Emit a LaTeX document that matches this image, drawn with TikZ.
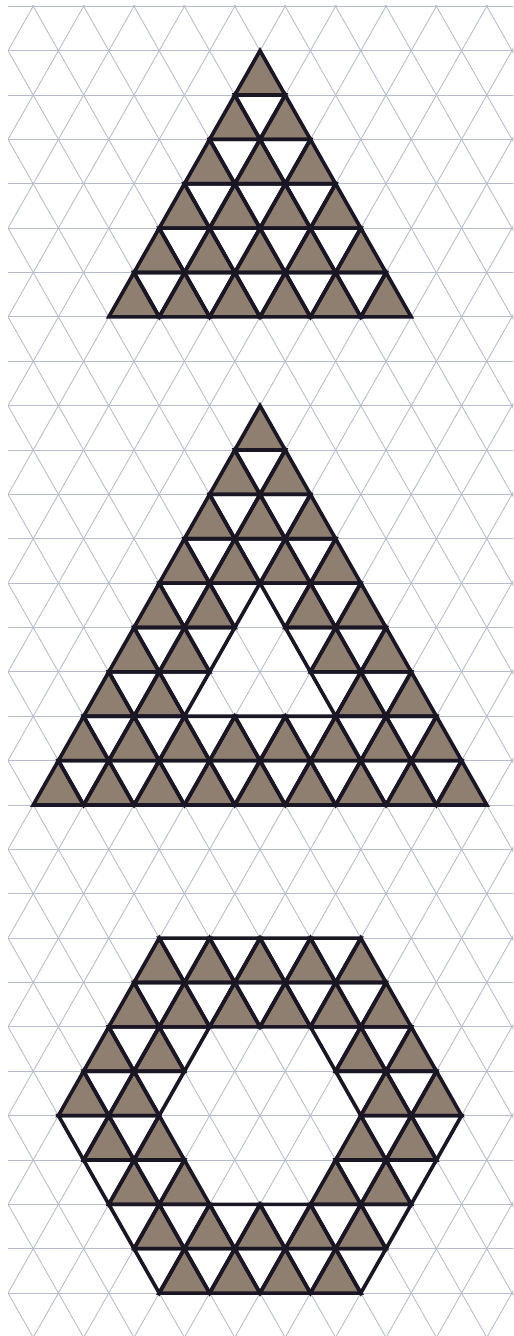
\documentclass[tikz,border=0pt]{standalone}
\definecolor{gridc}{RGB}{182,188,204}
\definecolor{shade}{RGB}{142,127,112}
\definecolor{ink}{RGB}{26,22,36}
\newcommand\inregion{%
 \pgfmathtruncatemacro\inside{((\cy>1)&&(\cy<7)&&(abs(\cx-10)<\cy-1)) || ((\cy>9)&&(\cy<18)&&(abs(\cx-10)<\cy-9)&&!((\cy>13)&&(\cy<16)&&(abs(\cx-10)<\cy-13))) || ((abs(\cy-25)<4)&&(abs(\cx-10)+abs(\cy-25)<8)&&!((abs(\cy-25)<2)&&(abs(\cx-10)+abs(\cy-25)<4)))}%
}
\newcommand\drawcells[2]{%
 \foreach \k in {0,...,29}{\foreach \a in {0,...,20}{%
   \pgfmathtruncatemacro\pty{mod(\a+\k,2)}%
   \ifnum\pty=1 \pgfmathsetmacro\cy{\k+2/3}\else\pgfmathsetmacro\cy{\k+1/3}\fi
   \def\cx{\a}%
   \inregion
   \ifnum\inside=1
     \ifnum\pty=1 \path[#1] (\a,\k) -- (\a-1,\k+1) -- (\a+1,\k+1) -- cycle;%
     \else \path[#2] (\a-1,\k) -- (\a+1,\k) -- (\a,\k+1) -- cycle;\fi
   \fi}}%
}
\begin{document}
\begin{tikzpicture}[x=25.2pt,y=-44.37pt,
  gridline/.style={draw=gridc,line width=0.85pt},
  cellup/.style={fill=shade},
  celldown/.style={fill=white},
  celledge/.style={draw=ink,line width=3.6pt,line join=miter}]
\useasboundingbox[fill=white] (-0.3175,-0.142) rectangle (20.04,29.968);
\begin{scope}
\clip (0,-0.02) rectangle (20.05,30.1);
\foreach \k in {0,...,30} \draw[gridline] (0,\k) -- (20.1,\k);
\foreach \c in {-31,-29,...,21} \draw[gridline] (\c-1,-1) -- (\c+31,31);
\foreach \d in {-1,1,...,51} \draw[gridline] (\d+1,-1) -- (\d-31,31);
\end{scope}
\drawcells{cellup}{celldown}
\drawcells{celledge}{celledge}
\end{tikzpicture}
\end{document}
